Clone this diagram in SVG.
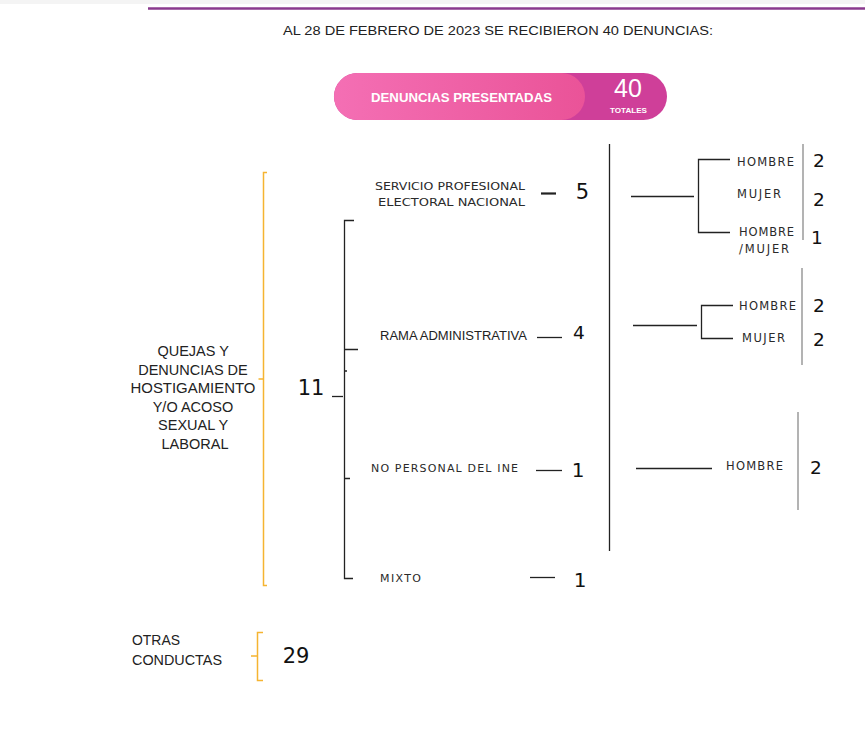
<svg xmlns="http://www.w3.org/2000/svg" width="865" height="741" viewBox="0 0 865 741">
<defs>
<linearGradient id="pg" x1="0" y1="0" x2="1" y2="0">
<stop offset="0" stop-color="#f46fb4"/>
<stop offset="1" stop-color="#ea5398"/>
</linearGradient>
<style>
.k{stroke:#222;stroke-width:1.3;fill:none}
.g{stroke:#9a9a9a;stroke-width:1.5;fill:none}
.y{stroke:#f5b431;stroke-width:1.5;fill:none}
.t{font-family:"Liberation Sans",Arial,sans-serif;fill:#222}
.v{font-family:"DejaVu Sans",Verdana,sans-serif;fill:#2a2a2a}
.n{font-family:"DejaVu Sans",Verdana,sans-serif;fill:#111}
</style>
</defs>
<rect x="0" y="0" width="865" height="741" fill="#fff"/>
<rect x="0" y="0" width="865" height="4" fill="#f4f4f4"/>
<line x1="148" y1="8.5" x2="865" y2="8.5" stroke="#8a3a8e" stroke-width="2.5"/>
<text class="t" x="498" y="35" font-size="13.5" text-anchor="middle" textLength="430" lengthAdjust="spacingAndGlyphs">AL 28 DE FEBRERO DE 2023 SE RECIBIERON 40 DENUNCIAS:</text>

<g id="total">
<rect x="334" y="73" width="333" height="47" rx="23.5" fill="#cf3f99"/>
<rect x="334" y="73" width="251" height="47" rx="23.5" fill="url(#pg)"/>
<text x="461.5" y="102" font-family="Liberation Sans,Arial,sans-serif" font-weight="bold" font-size="13" fill="#fff" text-anchor="middle" textLength="181" lengthAdjust="spacingAndGlyphs">DENUNCIAS PRESENTADAS</text>
<text x="628" y="97" font-family="Liberation Sans,Arial,sans-serif" font-size="25" fill="#fff" text-anchor="middle">40</text>
<text x="628.5" y="113" font-family="Liberation Sans,Arial,sans-serif" font-weight="bold" font-size="8" fill="#fff" text-anchor="middle" textLength="37" lengthAdjust="spacingAndGlyphs">TOTALES</text>
</g>

<g id="connectors">
<path class="y" d="M267,172.5 H263.5 V585.5 H267 M263.5,379 H258.5"/>
<path class="y" d="M263,632.5 H257.5 V680.5 H263 M257.5,656 H251"/>
<path class="k" d="M332,396.5 H343"/>
<path class="k" d="M354,220.5 H344.5 V578.5 H353 M344.5,349.5 H358 M344.5,371 H347 M344.5,478.5 H350"/>
<path class="k" d="M609.5,144 V551"/>
<path d="M541,193.5 H556" stroke="#222" stroke-width="2.2"/>
<path class="k" d="M537,337.5 H562"/>
<path class="k" d="M536,470.5 H562"/>
<path class="k" d="M530,577.5 H555"/>
<path class="k" d="M631,196.5 H694 M730,159.5 H698.5 V232.5 H730"/>
<path class="k" d="M633,325.5 H697 M733,305.5 H701.5 V338.5 H733"/>
<path class="k" d="M636,468.5 H712"/>
<path class="g" d="M803,144 V240"/>
<path class="g" d="M802,268 V365"/>
<path class="g" d="M798,412 V510"/>
</g>

<g id="quejas">
<text class="t" font-size="14.5" text-anchor="middle">
<tspan x="195" y="356">QUEJAS Y</tspan>
<tspan x="195" y="374.5">DENUNCIAS DE</tspan>
<tspan x="195" y="393" textLength="125" lengthAdjust="spacingAndGlyphs">HOSTIGAMIENTO</tspan>
<tspan x="195" y="411.5">Y/O ACOSO</tspan>
<tspan x="195" y="430">SEXUAL Y</tspan>
<tspan x="195" y="448.5">LABORAL</tspan>
</text>
<text class="n" x="311" y="395" font-size="21" text-anchor="middle">11</text>
</g>

<g id="spen">
<text class="v" x="525" y="190" font-size="11" text-anchor="end" textLength="150" lengthAdjust="spacingAndGlyphs">SERVICIO PROFESIONAL</text>
<text class="v" x="525" y="206" font-size="11" text-anchor="end" textLength="147" lengthAdjust="spacingAndGlyphs">ELECTORAL NACIONAL</text>
<text class="n" x="582.5" y="198.5" font-size="21" text-anchor="middle">5</text>
</g>
<g id="spen-desglose">
<text class="v" x="737" y="166" font-size="11.5" textLength="57" lengthAdjust="spacing">HOMBRE</text>
<text class="v" x="737" y="198" font-size="11.5" textLength="44" lengthAdjust="spacing">MUJER</text>
<text class="v" x="739" y="236" font-size="11.5" textLength="55" lengthAdjust="spacing">HOMBRE</text>
<text class="v" x="739" y="253" font-size="11.5" textLength="50" lengthAdjust="spacing">/MUJER</text>
<text class="n" x="819" y="167" font-size="18.5" text-anchor="middle">2</text>
<text class="n" x="819" y="206" font-size="18.5" text-anchor="middle">2</text>
<text class="n" x="817" y="244" font-size="18.5" text-anchor="middle">1</text>
</g>

<g id="rama">
<text class="t" x="380" y="340" font-size="12" textLength="147" lengthAdjust="spacingAndGlyphs">RAMA ADMINISTRATIVA</text>
<text class="n" x="579" y="339" font-size="18.5" text-anchor="middle">4</text>
</g>
<g id="rama-desglose">
<text class="v" x="739" y="310" font-size="11.5" textLength="57" lengthAdjust="spacing">HOMBRE</text>
<text class="v" x="742" y="342" font-size="11.5" textLength="43" lengthAdjust="spacing">MUJER</text>
<text class="n" x="819" y="312" font-size="18.5" text-anchor="middle">2</text>
<text class="n" x="819" y="346" font-size="18.5" text-anchor="middle">2</text>
</g>

<g id="nopersonal">
<text class="v" x="371" y="472" font-size="11" textLength="147" lengthAdjust="spacing">NO PERSONAL DEL INE</text>
<text class="n" x="578" y="477" font-size="20" text-anchor="middle">1</text>
</g>
<g id="nopersonal-desglose">
<text class="v" x="726" y="470" font-size="11.5" textLength="57" lengthAdjust="spacing">HOMBRE</text>
<text class="n" x="816" y="474" font-size="18.5" text-anchor="middle">2</text>
</g>

<g id="mixto">
<text class="v" x="380" y="582" font-size="11" textLength="41" lengthAdjust="spacing">MIXTO</text>
<text class="n" x="580" y="587" font-size="20" text-anchor="middle">1</text>
</g>

<g id="otras">
<text class="t" x="132" y="645" font-size="14" textLength="48" lengthAdjust="spacingAndGlyphs">OTRAS</text>
<text class="t" x="132" y="665" font-size="14" textLength="90" lengthAdjust="spacingAndGlyphs">CONDUCTAS</text>
<text class="n" x="296" y="663" font-size="21" text-anchor="middle">29</text>
</g>
</svg>
